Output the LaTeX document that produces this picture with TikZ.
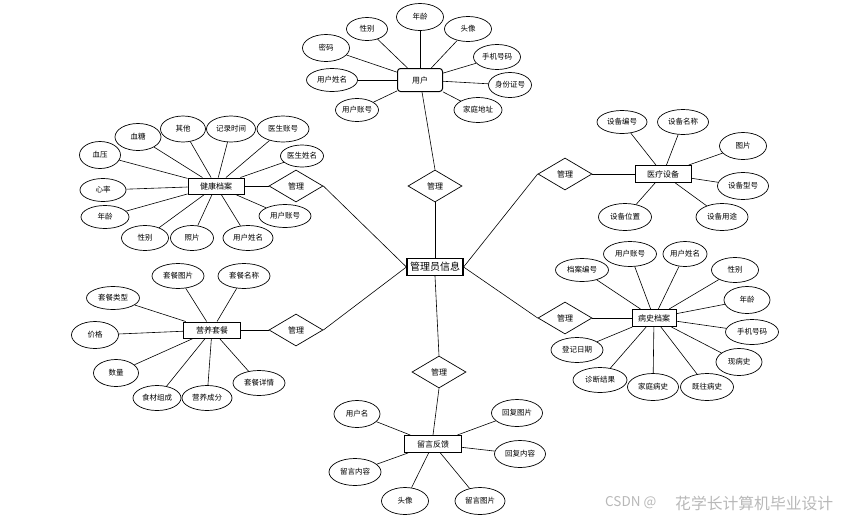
\documentclass[tikz,border=0pt]{standalone}
\usepackage{fontspec}
\setmainfont{Noto Sans CJK SC}
\usetikzlibrary{shapes.geometric}
\tikzset{
  attr/.style={ellipse, draw, line width=0.7pt, inner sep=0pt, minimum width=48pt, minimum height=25pt, font=\fontsize{7.5}{9}\selectfont},
  ent/.style={rectangle, draw, line width=1pt, inner sep=0pt, minimum width=56pt, minimum height=16pt, font=\fontsize{8}{9}\selectfont},
  rel/.style={diamond, draw, line width=0.7pt, inner sep=0pt, minimum width=54pt, minimum height=32pt, font=\fontsize{8}{9}\selectfont},
  link/.style={line width=0.6pt},
  wmark/.style={anchor=west, text=black!28, inner sep=0pt},
}
\begin{document}
\begin{tikzpicture}[x=1pt, y=-1pt]
\useasboundingbox (0,0) rectangle (846,520);
% central
\node[ent, minimum width=56pt, minimum height=17pt, line width=1.2pt, font=\fontsize{10}{11}\selectfont] (admin) at (435,267) {管理员信息};
% relations
\node[rel] (r_top) at (435,186) {管理};
\node[rel] (r_lt) at (296,186) {管理};
\node[rel] (r_lb) at (296,330) {管理};
\node[rel] (r_rt) at (565,174) {管理};
\node[rel] (r_rb) at (565,318) {管理};
\node[rel] (r_bot) at (439,372) {管理};
% entities
\node[ent, rounded corners=3pt, minimum width=45pt, minimum height=23pt] (user) at (420,80) {用户};
\node[ent] (health) at (216,186) {健康档案};
\node[ent, minimum height=17pt] (device) at (663,174) {医疗设备};
\node[ent, minimum width=57pt] (meal) at (212,330) {营养套餐};
\node[ent, minimum width=44pt, minimum height=17pt] (history) at (654,318) {病史档案};
\node[ent, minimum width=57pt, minimum height=17pt] (msg) at (433,444) {留言反馈};
% main links
\draw[link] (user) -- (r_top.north);
\draw[link] (r_top.south) -- (admin.north);
\draw[link] (r_lt.east) -- (admin.west);
\draw[link] (r_lb.east) -- (admin.west);
\draw[link] (r_rt.west) -- (admin.east);
\draw[link] (r_rb.west) -- (admin.east);
\draw[link] (admin.south) -- (r_bot.north);
\draw[link] (r_bot.south) -- (msg.north);
\draw[link] (health) -- (r_lt.west);
\draw[link] (meal) -- (r_lb.west);
\draw[link] (device) -- (r_rt.east);
\draw[link] (history) -- (r_rb.east);
% user attributes
\node[attr, minimum width=47pt, minimum height=27pt] (u1) at (420,17) {年龄};
\node[attr, minimum width=41pt, minimum height=23pt] (u2) at (367,29) {性别};
\node[attr, minimum width=47pt, minimum height=25pt] (u3) at (468,29) {头像};
\node[attr, minimum width=47pt, minimum height=27pt] (u4) at (326,48) {密码};
\node[attr, minimum width=47pt, minimum height=25pt] (u5) at (497,57) {手机号码};
\node[attr, minimum width=51pt, minimum height=23pt] (u6) at (332,80) {用户姓名};
\node[attr, minimum width=43pt, minimum height=25pt] (u7) at (510,85) {身份证号};
\node[attr, minimum width=43pt, minimum height=23pt] (u8) at (357,110) {用户账号};
\node[attr, minimum width=48pt, minimum height=25pt] (u9) at (478,110) {家庭地址};
\foreach \a in {u1,u2,u3,u4,u5,u6,u7,u8,u9} \draw[link] (user) -- (\a);
% health attributes
\node[attr, minimum width=46pt, minimum height=27pt] (h1) at (138,137) {血糖};
\node[attr, minimum width=45pt, minimum height=26pt] (h2) at (183,129) {其他};
\node[attr, minimum width=49pt, minimum height=26pt] (h3) at (231,129) {记录时间};
\node[attr, minimum width=52pt, minimum height=26pt] (h4) at (283,129) {医生账号};
\node[attr, minimum width=43pt, minimum height=22pt] (h5) at (302,156) {医生姓名};
\node[attr, minimum width=41pt, minimum height=27pt] (h6) at (100,155) {血压};
\node[attr, minimum width=46pt, minimum height=23pt] (h7) at (103,190) {心率};
\node[attr, minimum width=48pt, minimum height=23pt] (h8) at (105,217) {年龄};
\node[attr, minimum width=47pt, minimum height=25pt] (h9) at (145,238) {性别};
\node[attr, minimum width=43pt, minimum height=25pt] (h10) at (192,238) {照片};
\node[attr, minimum width=50pt, minimum height=25pt] (h11) at (248,238) {用户姓名};
\node[attr, minimum width=52pt, minimum height=23pt] (h12) at (285,216) {用户账号};
\foreach \a in {h1,h2,h3,h4,h5,h6,h7,h8,h9,h10,h11,h12} \draw[link] (health) -- (\a);
% device attributes
\node[attr, minimum width=50pt, minimum height=23pt] (d1) at (622,122) {设备编号};
\node[attr, minimum width=51pt, minimum height=25pt] (d2) at (683,122) {设备名称};
\node[attr, minimum width=47pt, minimum height=27pt] (d3) at (743,146) {图片};
\node[attr, minimum width=51pt, minimum height=27pt] (d4) at (743,186) {设备型号};
\node[attr, minimum width=53pt, minimum height=27pt] (d5) at (625,217) {设备位置};
\node[attr, minimum width=52pt, minimum height=27pt] (d6) at (722,217) {设备用途};
\foreach \a in {d1,d2,d3,d4,d5,d6} \draw[link] (device) -- (\a);
% meal attributes
\node[attr, minimum width=52pt, minimum height=25pt] (m1) at (178,276) {套餐图片};
\node[attr, minimum width=52pt, minimum height=25pt] (m2) at (244,276) {套餐名称};
\node[attr, minimum width=53pt, minimum height=23pt] (m3) at (113,298) {套餐类型};
\node[attr, minimum width=47pt, minimum height=27pt] (m4) at (95,335) {价格};
\node[attr, minimum width=45pt, minimum height=27pt] (m5) at (116,373) {数量};
\node[attr, minimum width=48pt, minimum height=25pt] (m6) at (157,398) {食材组成};
\node[attr, minimum width=50pt, minimum height=25pt] (m7) at (207,398) {营养成分};
\node[attr, minimum width=52pt, minimum height=25pt] (m8) at (259,383) {套餐详情};
\foreach \a in {m1,m2,m3,m4,m5,m6,m7,m8} \draw[link] (meal) -- (\a);
% history attributes
\node[attr, minimum width=53pt, minimum height=23pt] (p1) at (582,270) {档案编号};
\node[attr, minimum width=53pt, minimum height=25pt] (p2) at (630,254) {用户账号};
\node[attr, minimum width=44pt, minimum height=25pt] (p3) at (685,254) {用户姓名};
\node[attr, minimum width=47pt, minimum height=25pt] (p4) at (735,270) {性别};
\node[attr, minimum width=46pt, minimum height=27pt] (p5) at (747,300) {年龄};
\node[attr, minimum width=53pt, minimum height=25pt] (p6) at (752,332) {手机号码};
\node[attr, minimum width=46pt, minimum height=27pt] (p7) at (739,362) {现病史};
\node[attr, minimum width=52pt, minimum height=25pt] (p8) at (577,350) {登记日期};
\node[attr, minimum width=54pt, minimum height=25pt] (p9) at (600,380) {诊断结果};
\node[attr, minimum width=51pt, minimum height=27pt] (p10) at (653,387) {家庭病史};
\node[attr, minimum width=53pt, minimum height=27pt] (p11) at (707,387) {既往病史};
\foreach \a in {p1,p2,p3,p4,p5,p6,p7,p8,p9,p10,p11} \draw[link] (history) -- (\a);
% message attributes
\node[attr, minimum width=46pt, minimum height=27pt] (f1) at (357,414) {用户名};
\node[attr, minimum width=52pt, minimum height=27pt] (f2) at (355,472) {留言内容};
\node[attr, minimum width=47pt, minimum height=27pt] (f3) at (405,501) {头像};
\node[attr, minimum width=50pt, minimum height=27pt] (f4) at (480,501) {留言图片};
\node[attr, minimum width=51pt, minimum height=27pt] (f5) at (517,413) {回复图片};
\node[attr, minimum width=51pt, minimum height=27pt] (f6) at (520,454) {回复内容};
\foreach \a in {f1,f2,f3,f4,f5,f6} \draw[link] (msg) -- (\a);
% watermark
\node[wmark, font=\fontsize{13.5}{15}\selectfont] (wm1) at (605,503) {CSDN @};
\node[wmark, font=\fontsize{15.8}{17}\selectfont] (wm2) at (675,503) {花学长计算机毕业设计};
\end{tikzpicture}
\end{document}
